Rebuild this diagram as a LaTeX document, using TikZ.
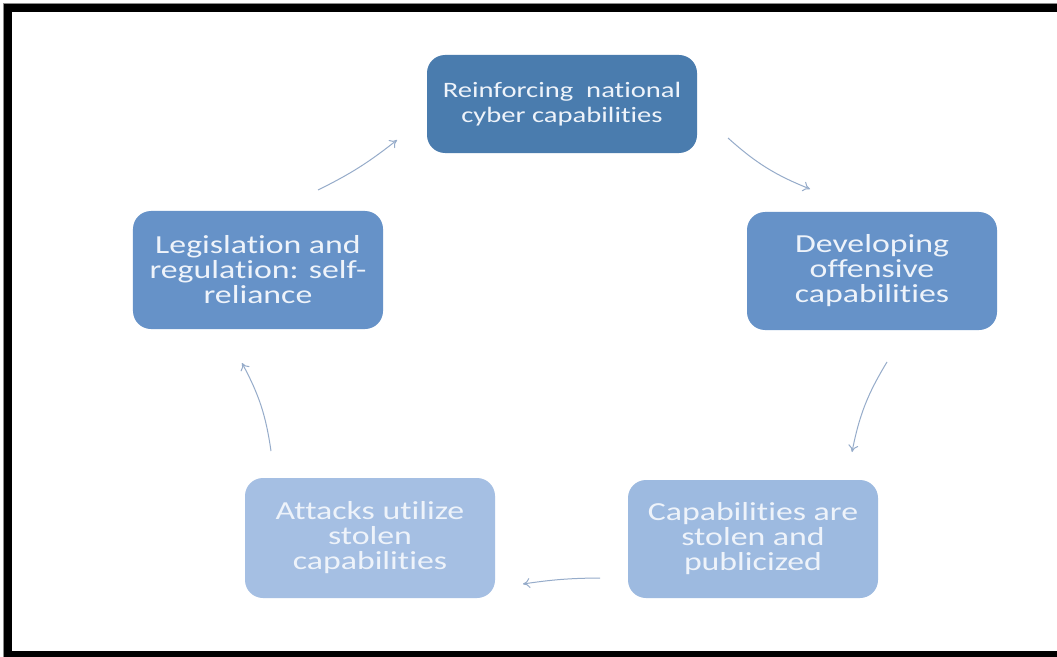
\documentclass[tikz,border=0pt]{standalone}
\usepackage{fontspec}
\setmainfont[FakeStretch=1.3, Ligatures=NoCommon]{Carlito}
\usetikzlibrary{arrows.meta}
\definecolor{cTop}{RGB}{74,124,174}
\definecolor{cMid}{RGB}{102,146,200}
\definecolor{cBR}{RGB}{157,186,224}
\definecolor{cBL}{RGB}{165,191,227}
\definecolor{cArr}{RGB}{150,172,202}
\definecolor{cTxt}{RGB}{238,243,250}
\tikzset{
  cyclebox/.style={rounded corners=18bp, inner sep=2bp, align=center,
    minimum width=250bp, minimum height=118bp,
    text=cTxt, font=\fontsize{26bp}{25bp}\selectfont},
  arr/.style={draw=cArr, line width=1bp, -{To[length=7bp,width=10bp]}},
}
\begin{document}
\begin{tikzpicture}[x=1bp,y=-1bp]
\useasboundingbox (0,0) rectangle (1057,657);
\fill[white] (-50,-50) rectangle (1110,710);
\draw[black!45, line width=1bp] (1110,3.5) -- (3.5,3.5) -- (3.5,710);
\draw[black, line width=8bp] (1110,8) -- (8,8) -- (8,655) -- (1110,655);
\node[cyclebox, fill=cTop, minimum width=270bp, minimum height=98bp,
  font=\fontsize{22bp}{25bp}\selectfont] (top) at (562,104)
  {Reinforcing\ \ national\\cyber capabilities};
\node[cyclebox, fill=cMid] (right) at (872,271)
  {Developing\\offensive\\capabilities};
\node[cyclebox, fill=cBR] (br) at (753,539)
  {Capabilities are\\stolen and\\publicized};
\node[cyclebox, fill=cBL, minimum height=120bp] (bl) at (370,538)
  {Attacks utilize\\stolen\\capabilities};
\node[cyclebox, fill=cMid] (left) at (258,270)
  {Legislation and\\regulation: self-\\reliance};
\draw[arr] ([shift={(166,34)}]top.center) to[bend right=10] ([shift={(-62,-82)}]right.center);
\draw[arr] ([shift={(15,91)}]right.center) to[bend right=10] ([shift={(99,-87)}]br.center);
\draw[arr] ([shift={(-153,39)}]br.center) to[bend right=4] ([shift={(153,46)}]bl.center);
\draw[arr] ([shift={(-99,-87)}]bl.center) to[bend right=10] ([shift={(-16,93)}]left.center);
\draw[arr] ([shift={(60,-80)}]left.center) to[bend right=6] ([shift={(-165,36)}]top.center);
\end{tikzpicture}
\end{document}
